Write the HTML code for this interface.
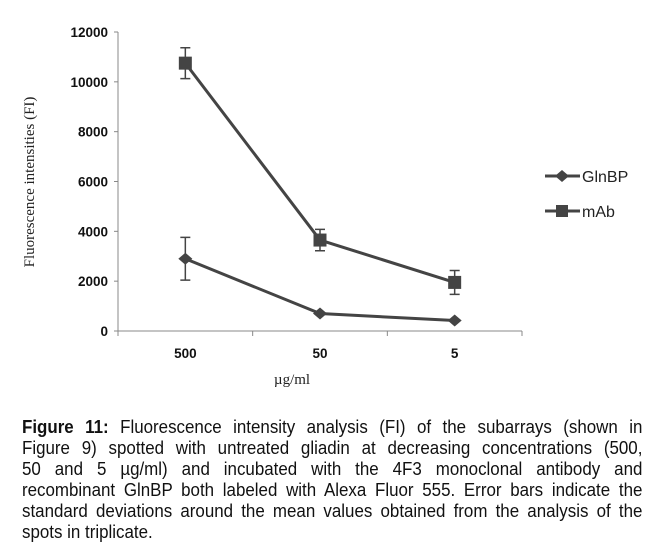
<!DOCTYPE html>
<html><head><meta charset="utf-8"><style>
body{margin:0;background:#fff;width:665px;height:556px;overflow:hidden;position:relative;font-family:"Liberation Sans",sans-serif}
#cap{position:absolute;left:22px;top:417px;width:660px;transform:scaleX(0.94);transform-origin:0 0;font-size:18px;color:#111}
#cap div{text-align:justify;text-align-last:justify;height:21px;line-height:21px;white-space:nowrap}
#cap div.last{text-align-last:left}
</style></head><body>
<svg id="chart" width="665" height="400" style="position:absolute;left:0;top:0"></svg>
<div id="cap">
<div><b>Figure 11:</b> Fluorescence intensity analysis (FI) of the subarrays (shown in</div>
<div>Figure 9) spotted with untreated gliadin at decreasing concentrations (500,</div>
<div>50 and 5 µg/ml) and incubated with the 4F3 monoclonal antibody and</div>
<div>recombinant GlnBP both labeled with Alexa Fluor 555. Error bars indicate the</div>
<div>standard deviations around the mean values obtained from the analysis of the</div>
<div class="last">spots in triplicate.</div>
</div>
<script>
const categories=["500","50","5"];
const yTicks=[0,2000,4000,6000,8000,10000,12000];
const mAbValues=[10750,3650,1950];
const mAbErr=[620,430,480];
const glnValues=[2900,700,420];
const glnErr=[860,0,0];
const NS="http://www.w3.org/2000/svg";
const svg=document.getElementById('chart');
const x0=118,x1=522,yBase=331,yTop=32;
const xs=i=>x0+(x1-x0)/categories.length*(i+0.5);
const ys=v=>yBase-(v/12000)*(yBase-yTop);
function el(t,a,p){const e=document.createElementNS(NS,t);for(const k in a)e.setAttribute(k,a[k]);(p||svg).appendChild(e);return e;}
const ax=el('line',{x1:x0,y1:yTop,x2:x0,y2:yBase,stroke:'#888','stroke-width':1});

const bx=el('line',{x1:x0-4,y1:yBase,x2:x1,y2:yBase,stroke:'#888','stroke-width':1});

yTicks.forEach(v=>{
 el('line',{x1:x0-4,y1:ys(v),x2:x0,y2:ys(v),stroke:'#888'});
 const t=el('text',{x:x0-10,y:ys(v)+5,'text-anchor':'end','font-size':'13.5','font-weight':'bold',fill:'#111'});
 t.textContent=v;
 
});
for(let i=0;i<=categories.length;i++){el('line',{x1:x0+(x1-x0)/categories.length*i,y1:yBase,x2:x0+(x1-x0)/categories.length*i,y2:yBase+5,stroke:'#888'});}
categories.forEach((c,i)=>{
 const t=el('text',{x:xs(i),y:yBase+27,'text-anchor':'middle','font-size':'13.5','font-weight':'bold',fill:'#111'});
 t.textContent=c;
 
});
const yl=el('text',{x:0,y:0,transform:'translate(34,182) rotate(-90)','text-anchor':'middle','font-size':'15','font-family':'Liberation Serif',fill:'#222'});
yl.textContent='Fluorescence intensities (FI)';

const xl=el('text',{x:292,y:384,'text-anchor':'middle','font-size':'15','font-family':'Liberation Serif',fill:'#222'});
xl.textContent='µg/ml';

const col='#444';
function series(vals,errs,shape,name){
 const g=el('g',{});
 
 el('polyline',{points:vals.map((v,i)=>xs(i)+','+ys(v)).join(' '),fill:'none',stroke:col,'stroke-width':3},g);
 vals.forEach((v,i)=>{
  if(errs[i]>0){
   const hi=ys(v+errs[i]),lo=ys(v-errs[i]),x=xs(i);
   const eb=el('path',{d:`M${x},${hi}V${lo}M${x-5},${hi}H${x+5}M${x-5},${lo}H${x+5}`,stroke:col,'stroke-width':1.5,fill:'none'},g);
   
  }
  let m;
  if(shape==='sq')m=el('rect',{x:xs(i)-6.5,y:ys(v)-6.5,width:13,height:13,fill:col},g);
  else m=el('path',{d:`M${xs(i)},${ys(v)-6}L${xs(i)+7},${ys(v)}L${xs(i)},${ys(v)+6}L${xs(i)-7},${ys(v)}Z`,fill:col},g);
  
 });
}
series(mAbValues,mAbErr,'sq','mab');
series(glnValues,glnErr,'dia','glnbp');
function legend(y,shape,label,name){
 const g=el('g',{});
 
 el('line',{x1:545,y1:y,x2:580,y2:y,stroke:col,'stroke-width':3},g);
 if(shape==='sq')el('rect',{x:556,y:y-6,width:12,height:12,fill:col},g);
 else el('path',{d:`M562,${y-6}L569,${y}L562,${y+6}L555,${y}Z`,fill:col},g);
 const t=el('text',{x:582,y:y+6,'font-size':'16',fill:'#222'},g);t.textContent=label;
}
legend(176,'dia','GlnBP','glnbp');
legend(211,'sq','mAb','mab');
</script>
</body></html>
